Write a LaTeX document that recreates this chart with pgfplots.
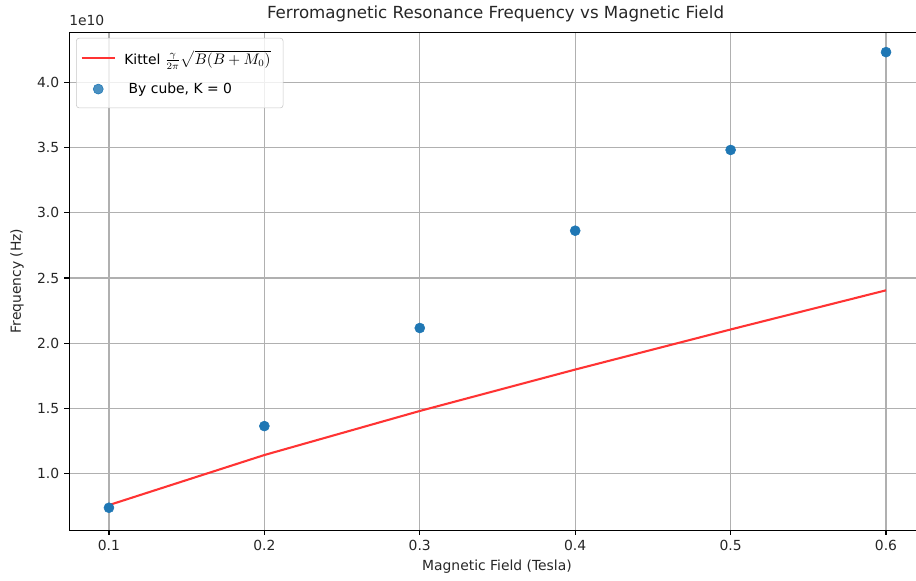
\documentclass[border=0pt]{standalone}
\usepackage{fontspec}
\setmainfont{DejaVu Sans}
\usepackage{pgfplots}
\pgfplotsset{compat=1.18}
\definecolor{mplblue}{HTML}{1F77B4}
\definecolor{gridgray}{HTML}{B0B0B0}
\definecolor{kred}{HTML}{FF3333}
\pgfplotsset{shortline/.style={legend image code/.code={\draw[##1] (0pt,0pt) -- (24pt,0pt);}},
  dotlegend/.style={legend image code/.code={\draw[##1] plot coordinates {(12pt,0pt)};}}}
\begin{document}
\begin{tikzpicture}
\path[use as bounding box] (-49.68pt,-36pt) rectangle (609.8pt,381.6pt);
\begin{axis}[
  name=ax,
  at={(0,0)}, anchor=south west,
  scale only axis, width=616.2pt, height=358.6pt,
  xmin=0.0743, xmax=0.625, ymin=0.565, ymax=4.389,
  xtick={0.1,0.2,0.3,0.4,0.5,0.6},
  ytick={1.0,1.5,2.0,2.5,3.0,3.5,4.0},
  xticklabel={\pgfmathprintnumber[fixed,fixed zerofill,precision=1,assume math mode=true]{\tick}},
  yticklabel={\pgfmathprintnumber[fixed,fixed zerofill,precision=1,assume math mode=true]{\tick}},
  scaled ticks=false,
  tick align=outside, tick pos=left,
  major tick length=3.5pt,
  tick style={black, line width=0.8pt},
  grid=major, grid style={gridgray, line width=0.8pt},
  axis line style={line width=0.6pt},
  ticklabel style={font=\fontsize{10}{12}\selectfont, text=black!85},
  xlabel={Magnetic Field (Tesla)},
  ylabel={Frequency (Hz)},
  xlabel style={at={(0.5,-0.0743)}, anchor=center, font=\fontsize{10}{12}\selectfont, text=black!85},
  ylabel style={at={(-0.0607,0.5)}, anchor=center, rotate=0, font=\fontsize{10}{12}\selectfont, text=black!85},
  legend style={at={(0.0083,0.988)}, anchor=north west,
    draw=gridgray!70, rounded corners=2pt, fill=white, fill opacity=0.8, text opacity=1,
    font=\fontsize{10}{12}\selectfont, row sep=8pt, inner ysep=7pt, inner xsep=3pt,
    nodes={inner xsep=6pt}},
  legend cell align=left,
]
\addplot[color=kred, line width=1.5pt, no markers, shortline]
  coordinates {(0.1,0.7565) (0.2,1.1408) (0.3,1.479) (0.4,1.797) (0.5,2.1047) (0.6,2.4054)};
\addlegendentry{Kittel {\fontsize{10.5}{13}\selectfont$\frac{\gamma}{2\pi}\sqrt{B(B+M_0)}$}}
\addplot[only marks, mark=*, mark size=3.6pt, color=mplblue, mark options={draw=mplblue, fill=mplblue}, dotlegend]
  coordinates {(0.1,0.736) (0.2,1.363) (0.3,2.116) (0.4,2.863) (0.5,3.483) (0.6,4.234)};
\addlegendentry{\ By cube, K = 0}
\end{axis}
\node[anchor=south west, inner sep=0pt, font=\fontsize{10}{12}\selectfont, text=black!85] at ([yshift=4pt]ax.north west) {1e10};
\node[anchor=center, inner sep=0pt, font=\fontsize{12}{14}\selectfont, text=black!85] at ([xshift=-1pt,yshift=12.9pt]ax.north) {Ferromagnetic Resonance Frequency vs Magnetic Field};
\end{tikzpicture}
\end{document}
